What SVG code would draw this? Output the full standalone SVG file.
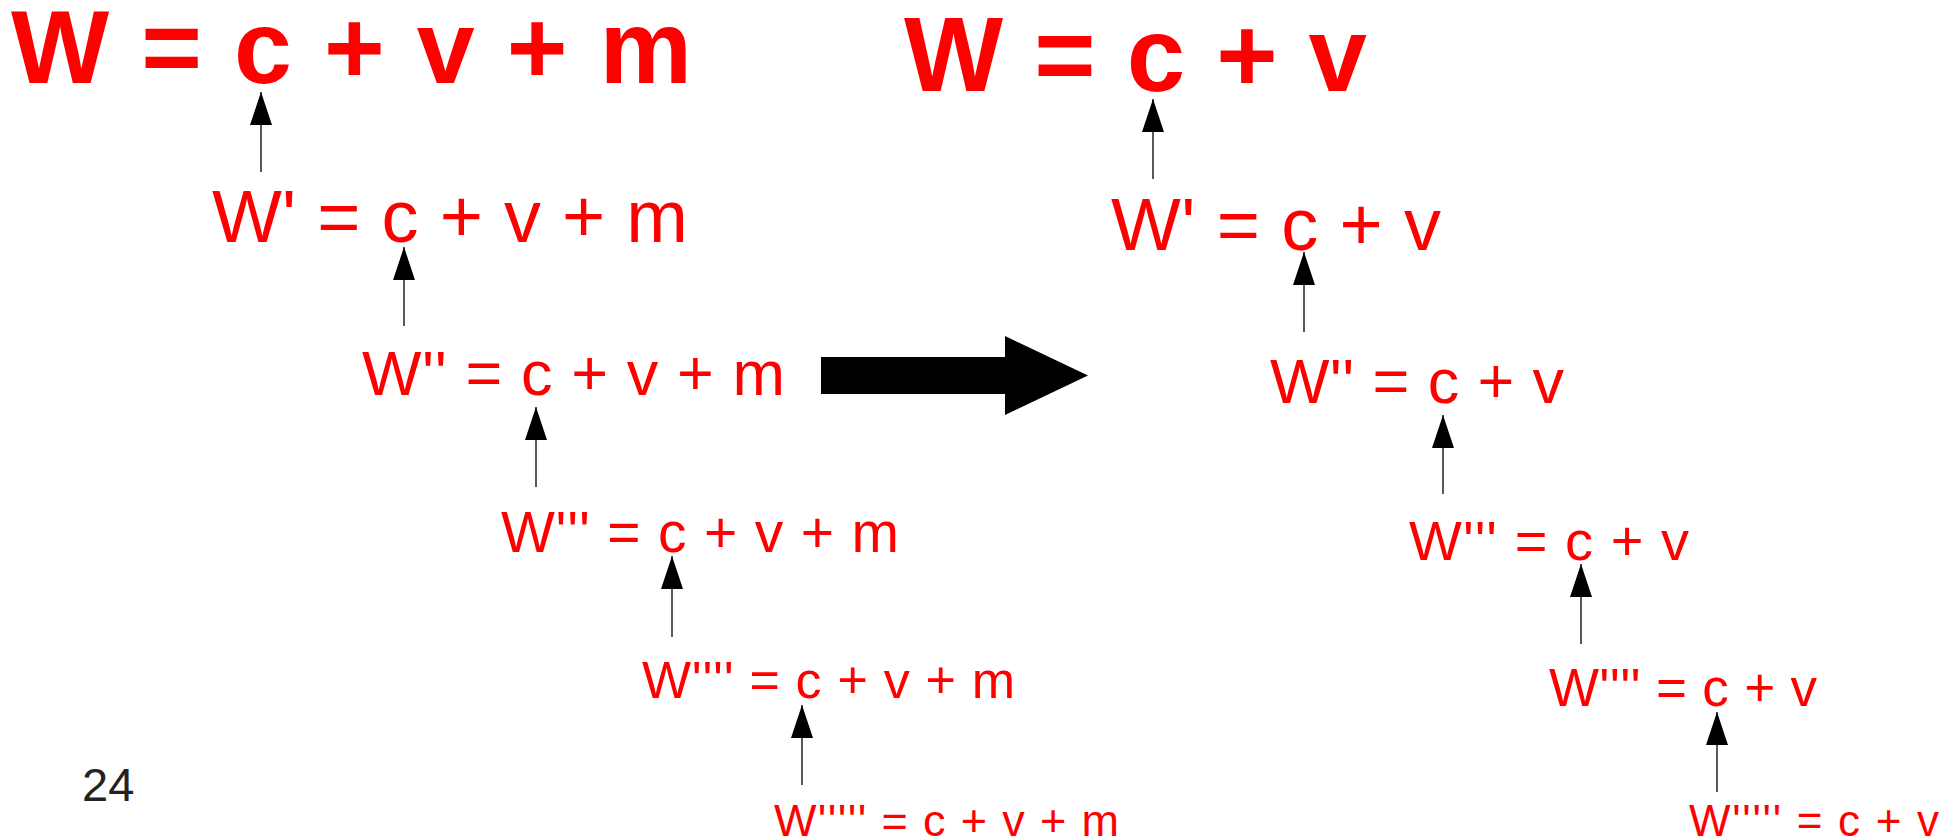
<svg xmlns="http://www.w3.org/2000/svg" width="1960" height="840" viewBox="0 0 1960 840">
<style>
.eq{font-family:"Liberation Sans",Arial,sans-serif;fill:#ff0000;}
.b{font-weight:bold;}
.pg{font-family:"Liberation Sans",Arial,sans-serif;fill:#222222;font-size:47px;}
.ar{stroke:#000;stroke-width:1.3;fill:none;marker-end:url(#ah);}
</style>
<defs>
<marker id="ah" viewBox="0 0 33 22" markerWidth="33" markerHeight="22" markerUnits="userSpaceOnUse" refX="33" refY="11" orient="auto">
<path d="M0,0 L33,11 L0,22 Z" fill="#000"/>
</marker>
</defs>
<rect width="1960" height="840" fill="#fff"/>
<g id="t1"><text class="eq b" x="11" y="83" font-size="104" textLength="681">W = c + v + m</text></g>
<g id="t2"><text class="eq b" x="904" y="91" font-size="105" textLength="463">W = c + v</text></g>
<g id="l1"><text class="eq" x="212" y="242" font-size="74" textLength="476">W' = c + v + m</text></g>
<g id="l2"><text class="eq" x="362" y="395" font-size="63" textLength="423">W'' = c + v + m</text></g>
<g id="l3"><text class="eq" x="501" y="552" font-size="57" textLength="398">W''' = c + v + m</text></g>
<g id="l4"><text class="eq" x="642" y="698" font-size="52" textLength="373">W'''' = c + v + m</text></g>
<g id="l5"><text class="eq" x="774" y="836" font-size="45" textLength="345">W''''' = c + v + m</text></g>
<g id="r1"><text class="eq" x="1111" y="250" font-size="74" textLength="330">W' = c + v</text></g>
<g id="r2"><text class="eq" x="1270" y="403" font-size="63" textLength="294">W'' = c + v</text></g>
<g id="r3"><text class="eq" x="1409" y="560" font-size="56" textLength="280">W''' = c + v</text></g>
<g id="r4"><text class="eq" x="1549" y="706" font-size="53" textLength="268">W'''' = c + v</text></g>
<g id="r5"><text class="eq" x="1689" y="836" font-size="44" textLength="250">W''''' = c + v</text></g>
<g id="page"><text class="pg" x="82" y="801">24</text></g>
<g id="connectors">
<line class="ar" x1="261" y1="172" x2="261" y2="92"/>
<line class="ar" x1="404" y1="326" x2="404" y2="247"/>
<line class="ar" x1="536" y1="487" x2="536" y2="407"/>
<line class="ar" x1="672" y1="637" x2="672" y2="556"/>
<line class="ar" x1="802" y1="785" x2="802" y2="705"/>
<line class="ar" x1="1153" y1="179" x2="1153" y2="99"/>
<line class="ar" x1="1304" y1="332" x2="1304" y2="252"/>
<line class="ar" x1="1443" y1="494" x2="1443" y2="415"/>
<line class="ar" x1="1581" y1="644" x2="1581" y2="564"/>
<line class="ar" x1="1717" y1="792" x2="1717" y2="712"/>
<polygon points="821,357 1005,357 1005,336 1088,375.5 1005,415 1005,394 821,394" fill="#000"/>
</g>
</svg>
